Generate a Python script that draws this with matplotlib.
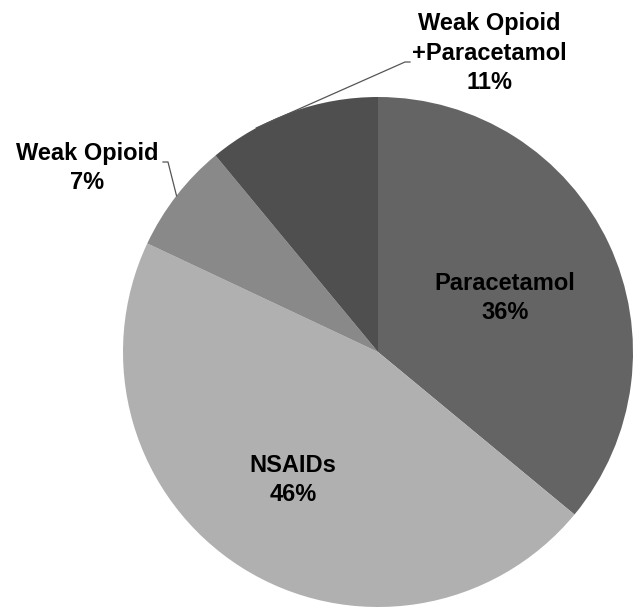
import numpy as np
import matplotlib.pyplot as plt

# Données
categories = ["Paracetamol", "NSAIDs", "Weak Opioid", "Weak Opioid\n+Paracetamol"]
values = [36, 46, 7, 11]
colors = ["#646464", "#b0b0b0", "#898989", "#4f4f4f"]

W, H = 636, 608


def main() -> None:
    fig = plt.figure(figsize=(W / 100, H / 100), dpi=100)
    ax = fig.add_axes([0, 0, 1, 1])

    cx, cy, r = 378, H - 352, 255
    wedges, _ = ax.pie(values, colors=colors, startangle=90, counterclock=False,
                       center=(cx, cy), radius=r, frame=True)
    ax.set_xlim(0, W)
    ax.set_ylim(0, H)
    ax.set_aspect("equal")
    ax.axis("off")

    font = dict(family="Liberation Sans", weight="bold", fontsize=17,
                ha="center", va="center", linespacing=1.38, color="black")

    def label(i):
        return f"{categories[i]}\n{values[i]}%"

    # Étiquettes intérieures
    ax.text(505, H - 298, label(0), **font)
    ax.text(293, H - 480, label(1), **font)

    # Étiquettes extérieures avec traits de rappel
    ax.text(87, H - 168, label(2), **font)
    ax.text(489, H - 53, label(3), **font)

    def edge_point(w, frac=0.5):
        ang = np.deg2rad(w.theta1 + (w.theta2 - w.theta1) * frac)
        return cx + r * np.cos(ang), cy + r * np.sin(ang)

    x0, y0 = edge_point(wedges[2])
    ax.plot([x0, 168, 163], [y0, H - 162, H - 162], color="#555555", lw=0.9)
    x1, y1 = edge_point(wedges[3], 0.72)
    ax.plot([x1, 405, 410], [y1, H - 62, H - 62], color="#555555", lw=0.9)

    fig.savefig("out.png", dpi=100)


if __name__ == "__main__":
    main()
